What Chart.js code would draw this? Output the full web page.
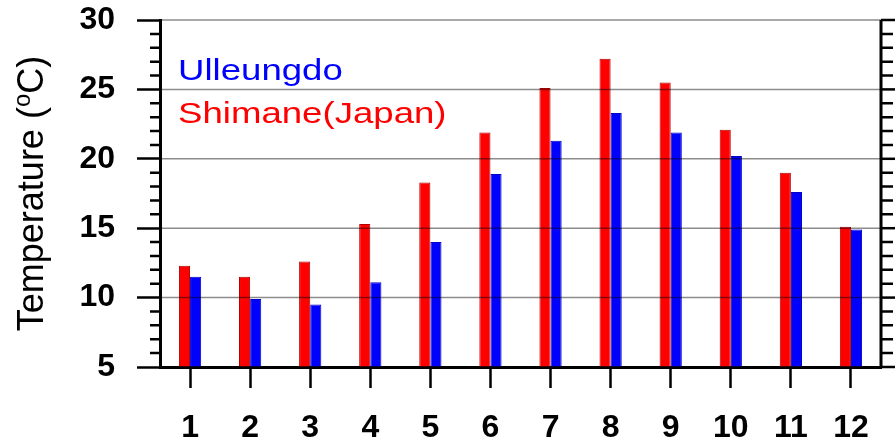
<!DOCTYPE html>
<html>
<head>
<meta charset="utf-8">
<script src="https://cdn.jsdelivr.net/npm/chart.js@4"></script>
<style>
    html, body { margin: 0; padding: 0; background: #fff; }
    #wrap { width: 895px; height: 445px; }
</style>
</head>
<body>
<div id="wrap"><canvas id="tempChart" width="895" height="445"></canvas></div>
<script>
// 월 (x축)
const months = ['1', '2', '3', '4', '5', '6', '7', '8', '9', '10', '11', '12'];
// 시마네(일본) 월평균 기온
const shimaneTemp = [12.3, 11.5, 12.6, 15.3, 18.3, 21.9, 25.1, 27.2, 25.5, 22.1, 19.0, 15.1];
// 울릉도 월평균 기온
const ulleungdoTemp = [11.5, 9.9, 9.5, 11.1, 14.0, 18.9, 21.3, 23.3, 21.9, 20.2, 17.6, 14.9];
// y축 범위
const yMin = 5;
const yMax = 30;
const yStep = 5;

// 막대 위에 격자선 (원본처럼 막대 위로 지나감)
const gridOverBars = {
    id: 'gridOverBars',
    afterDatasetsDraw(chart) {
        const ctx = chart.ctx;
        const area = chart.chartArea;
        const y = chart.scales.y;
        ctx.save();
        ctx.strokeStyle = 'rgba(0, 0, 0, 0.45)';
        ctx.lineWidth = 1.5;
        for (let v = yMin + yStep; v <= yMax; v += yStep) {
            const py = y.getPixelForValue(v);
            ctx.beginPath();
            ctx.moveTo(area.left, py);
            ctx.lineTo(area.right, py);
            ctx.stroke();
        }
        ctx.restore();
    }
};

// 보조 눈금, 오른쪽 축
const axisExtras = {
    id: 'axisExtras',
    afterDraw(chart) {
        const ctx = chart.ctx;
        const area = chart.chartArea;
        const y = chart.scales.y;
        ctx.save();
        ctx.strokeStyle = '#000';
        ctx.lineWidth = 2.5;
        for (let v = yMin; v <= yMax; v++) {
            const py = y.getPixelForValue(v);
            const major = v % yStep === 0;
            ctx.beginPath();
            if (!major) {
                ctx.moveTo(area.left - 10, py);
                ctx.lineTo(area.left, py);
            }
            ctx.moveTo(area.right, py);
            ctx.lineTo(area.right + (major ? 23 : 12), py);
            ctx.stroke();
        }
        ctx.lineWidth = 3;
        ctx.beginPath();
        ctx.moveTo(area.right, area.top);
        ctx.lineTo(area.right, area.bottom);
        ctx.stroke();
        ctx.restore();
    }
};

// 범례 글자, y축 제목
const textLabels = {
    id: 'textLabels',
    afterDraw(chart) {
        const ctx = chart.ctx;
        const area = chart.chartArea;
        ctx.save();
        ctx.font = '30px "Liberation Sans", Arial, sans-serif';
        ctx.textBaseline = 'middle';
        ctx.textAlign = 'left';
        ctx.translate(area.left + 18, 0);
        ctx.scale(1.22, 1);
        ctx.fillStyle = '#0000ff';
        ctx.fillText('Ulleungdo', 0, area.top + 52);
        ctx.fillStyle = '#ff0000';
        ctx.fillText('Shimane(Japan)', 0, area.top + 95);
        ctx.restore();

        // 제목: Temperature (ºC)
        ctx.save();
        const big = '36px "Liberation Sans", Arial, sans-serif';
        const small = '24px "Liberation Sans", Arial, sans-serif';
        ctx.font = big;
        const w1 = ctx.measureText('Temperature (').width;
        const w3 = ctx.measureText('C)').width;
        ctx.font = small;
        const w2 = ctx.measureText('o').width;
        const total = w1 + w2 + w3;
        ctx.translate(43, (area.top + area.bottom) / 2);
        ctx.rotate(-Math.PI / 2);
        ctx.fillStyle = '#000';
        ctx.textBaseline = 'alphabetic';
        ctx.textAlign = 'left';
        let x = -total / 2;
        ctx.font = big;
        ctx.fillText('Temperature (', x, 0);
        x += w1;
        ctx.font = small;
        ctx.fillText('o', x, -13);
        x += w2;
        ctx.font = big;
        ctx.fillText('C)', x, 0);
        ctx.restore();
    }
};

function createTempChart() {
    const ctx = document.getElementById('tempChart').getContext('2d');

    new Chart(ctx, {
        type: 'bar',
        data: {
            labels: months,
            datasets: [
                {
                    label: 'Shimane(Japan)',
                    data: shimaneTemp,
                    backgroundColor: '#ff0000',
                    borderColor: '#b00000',
                    borderWidth: 1,
                    base: yMin
                },
                {
                    label: 'Ulleungdo',
                    data: ulleungdoTemp,
                    backgroundColor: '#0000ff',
                    borderColor: '#0000c8',
                    borderWidth: 1,
                    base: yMin
                }
            ]
        },
        options: {
            responsive: false,
            animation: false,
            layout: {
                padding: { top: 20, right: 14, left: 0, bottom: 0 }
            },
            datasets: {
                bar: {
                    barPercentage: 1,
                    categoryPercentage: 0.37
                }
            },
            plugins: {
                legend: { display: false },
                tooltip: { enabled: false }
            },
            scales: {
                x: {
                    offset: true,
                    grid: {
                        offset: false,
                        drawOnChartArea: false,
                        drawTicks: true,
                        tickLength: 21,
                        tickColor: '#000',
                        tickWidth: 2.5
                    },
                    border: { display: true, color: '#000', width: 3 },
                    ticks: {
                        color: '#000',
                        padding: 21,
                        maxRotation: 0,
                        font: { family: '"Liberation Sans", Arial, sans-serif', size: 32, weight: 'bold' }
                    },
                    afterFit(scale) {
                        scale.height = 78;
                        scale.paddingLeft = 0;
                        scale.paddingRight = 0;
                    }
                },
                y: {
                    min: yMin,
                    max: yMax,
                    grid: {
                        drawOnChartArea: false,
                        tickLength: 23,
                        tickColor: '#000',
                        tickWidth: 2.5
                    },
                    border: { display: true, color: '#000', width: 3 },
                    ticks: {
                        stepSize: yStep,
                        color: '#000',
                        padding: 22,
                        font: { family: '"Liberation Sans", Arial, sans-serif', size: 32, weight: 'bold' }
                    },
                    afterFit(scale) {
                        scale.width = 160;
                        scale.paddingTop = 0;
                        scale.paddingBottom = 0;
                    }
                }
            }
        },
        plugins: [gridOverBars, axisExtras, textLabels]
    });
}

createTempChart();
</script>
</body>
</html>
